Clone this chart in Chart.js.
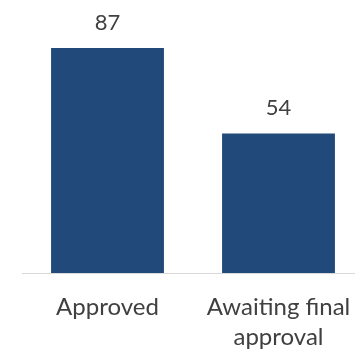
<!DOCTYPE html>
<html>
<head>
<meta charset="utf-8">
<script src="https://cdn.jsdelivr.net/npm/chart.js@4.4.1/dist/chart.umd.min.js"></script>
<style>
  html, body { margin: 0; padding: 0; background: #fff; overflow: hidden; }
  #wrap { position: relative; width: 364px; height: 350px; }
</style>
</head>
<body>
<div id="wrap"><canvas id="statusChart"></canvas></div>
<script>
const categories = [["Approved"], ["Awaiting final", "approval"]];
const counts = [87, 54];

const barColor = "#21497A";
const textColor = "#404040";
const fontFamily = "Lato, 'Open Sans', sans-serif";

// draws the count above each bar
const valueLabels = {
  id: "valueLabels",
  afterDatasetsDraw(chart) {
    const ctx = chart.ctx;
    const meta = chart.getDatasetMeta(0);
    ctx.save();
    ctx.font = `22px ${fontFamily}`;
    ctx.fillStyle = textColor;
    ctx.textAlign = "center";
    ctx.textBaseline = "alphabetic";
    meta.data.forEach((bar, i) => {
      ctx.fillText(String(counts[i]), bar.x, bar.y - 18);
    });
    ctx.restore();
  }
};

new Chart(document.getElementById("statusChart"), {
  type: "bar",
  data: {
    labels: categories,
    datasets: [{
      data: counts,
      backgroundColor: barColor,
      barPercentage: 0.66,
      categoryPercentage: 1.0
    }]
  },
  options: {
    responsive: true,
    maintainAspectRatio: false,
    animation: false,
    layout: { padding: { left: 22, right: 0, top: 0, bottom: 0 } },
    plugins: {
      legend: { display: false },
      tooltip: { enabled: false }
    },
    scales: {
      x: {
        grid: { display: false },
        border: { display: true, color: "#D9D9D9", width: 1 },
        ticks: {
          color: textColor,
          padding: 11,
          font: { family: fontFamily, size: 24, lineHeight: 1.25 },
          maxRotation: 0
        },
        afterFit(scale) {
          // fixed axis band, no extra side padding for long labels
          scale.height = 77;
          scale.paddingLeft = 0;
          scale.paddingRight = 0;
        }
      },
      y: {
        display: false,
        min: 0,
        max: 105.6
      }
    }
  },
  plugins: [valueLabels]
});
</script>
</body>
</html>
